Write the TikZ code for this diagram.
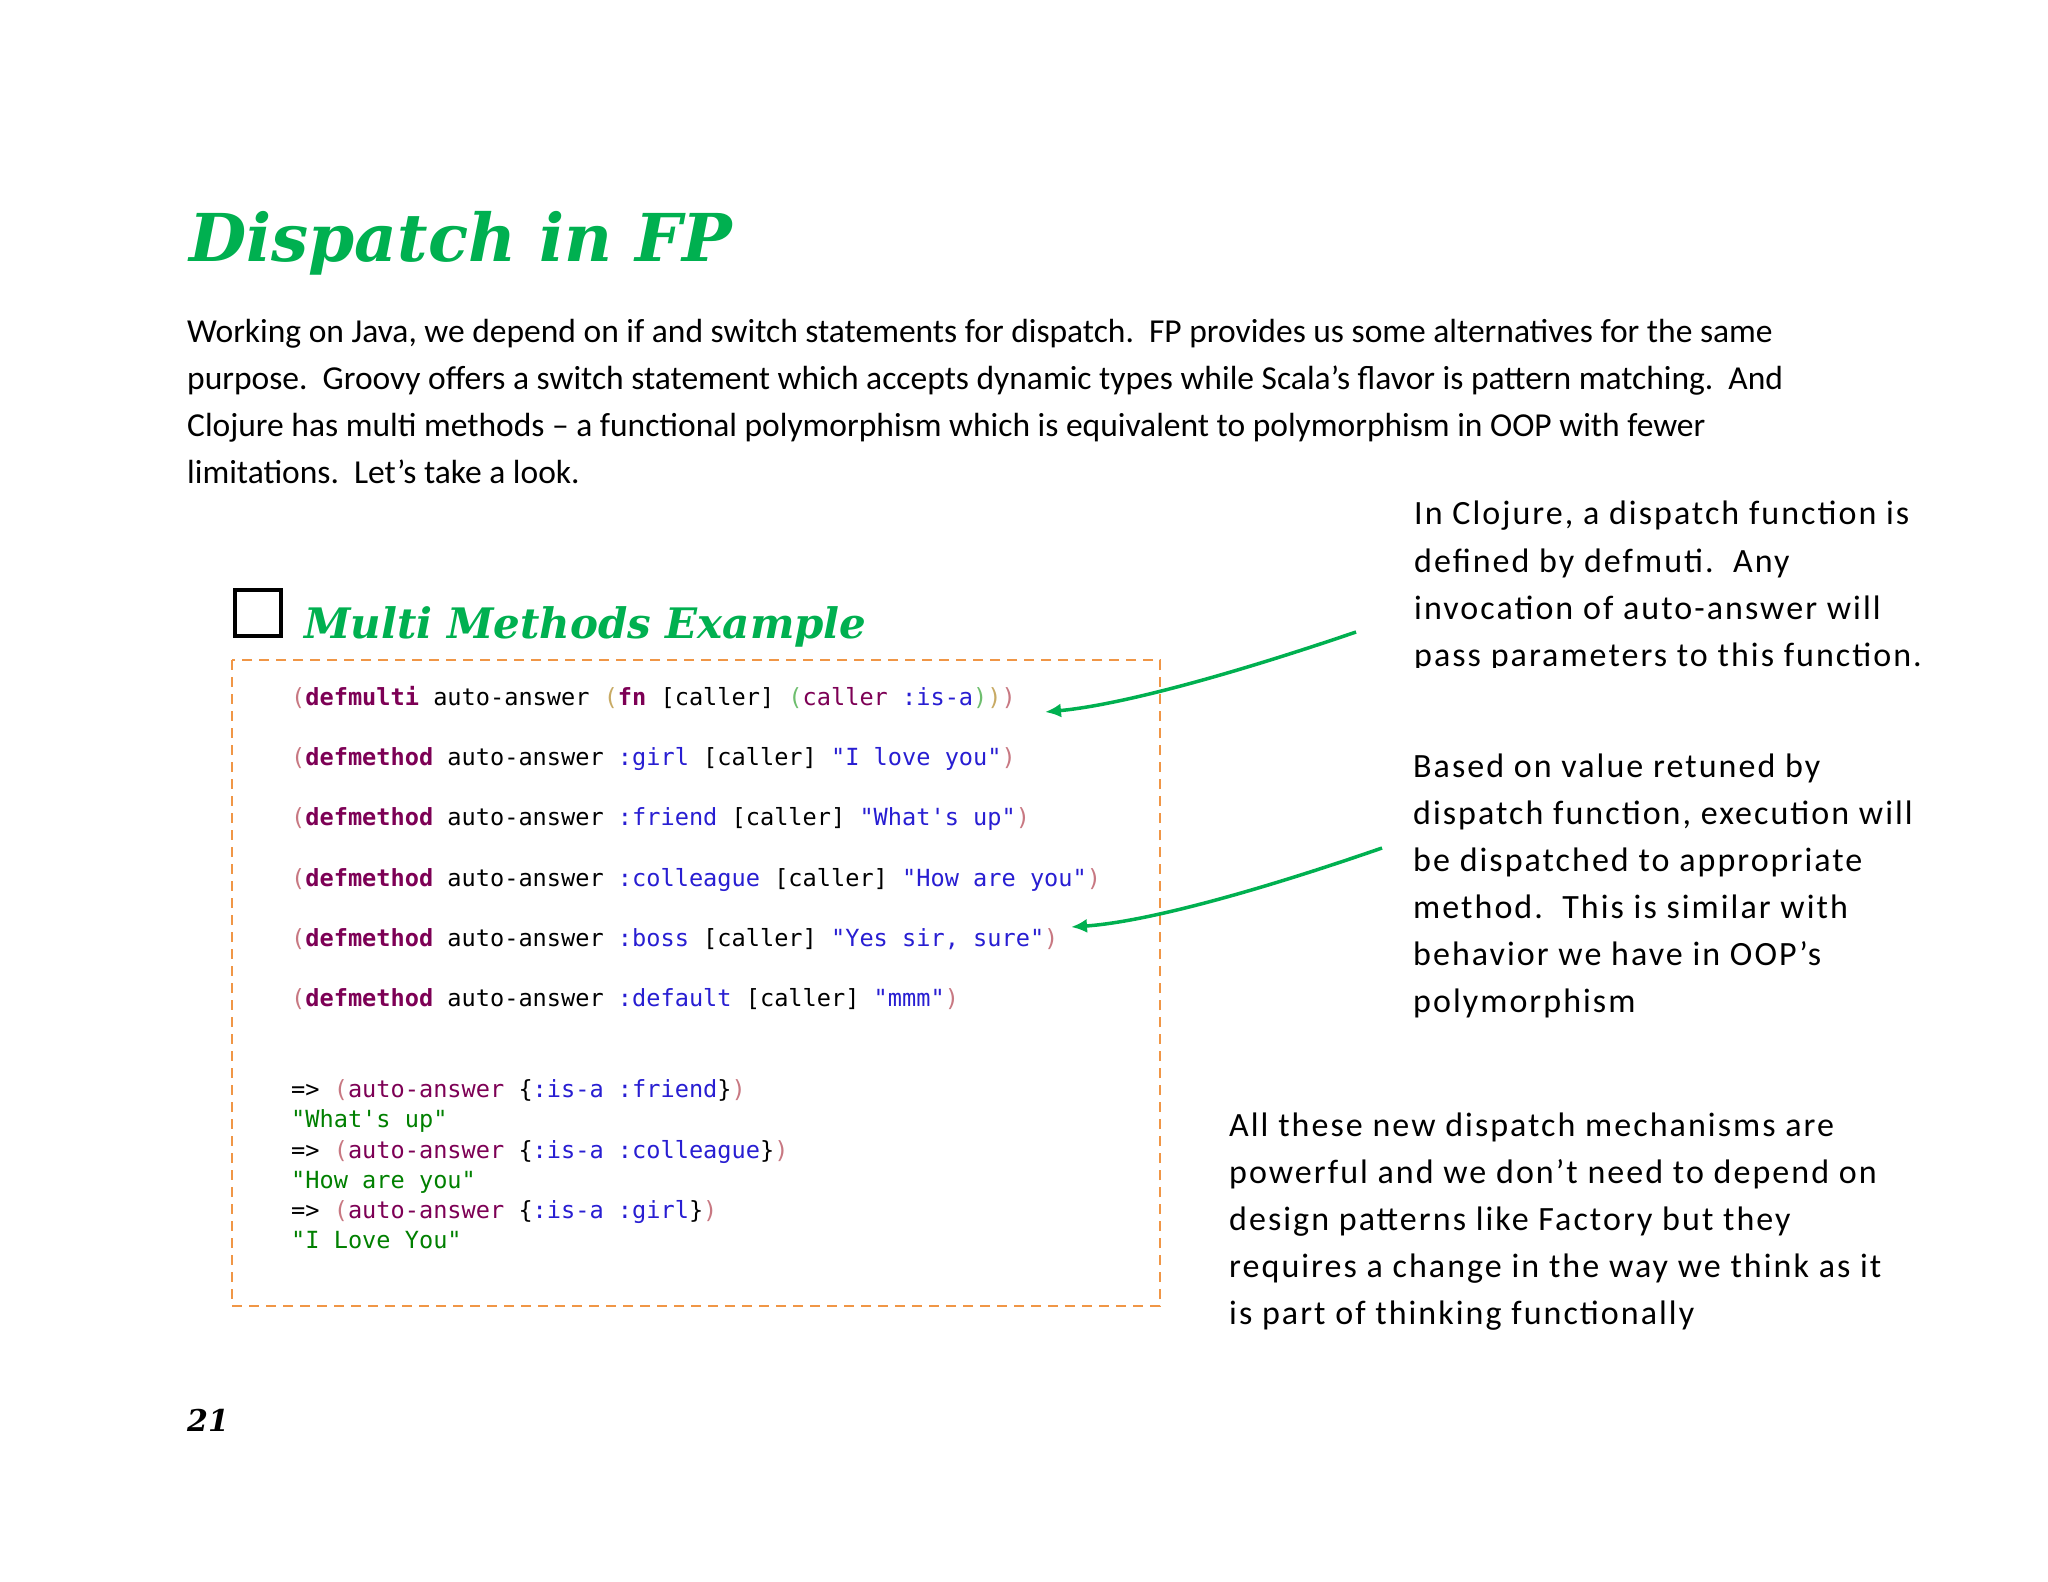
\documentclass[tikz,border=0pt]{standalone}
\usepackage{fontspec}
\usetikzlibrary{arrows.meta}
\setmainfont{Carlito}
\newfontfamily\codefont{DejaVu Sans Mono}
\newfontfamily\spaced[LetterSpace=6]{Carlito}
\newfontfamily\hand{DejaVu Serif}
\definecolor{titlegreen}{RGB}{0,176,80}
\definecolor{kw}{RGB}{125,0,85}
\definecolor{key}{RGB}{40,30,210}
\definecolor{par}{RGB}{200,120,130}
\definecolor{parY}{RGB}{200,170,100}
\definecolor{parG}{RGB}{110,190,110}
\definecolor{res}{RGB}{0,128,0}
\definecolor{boxor}{RGB}{240,150,70}
\newcommand{\KwX}[1]{\textcolor{kw}{\textbf{#1}}}
\newcommand{\KeyX}[1]{\textcolor{key}{#1}}
\newcommand{\ParX}[1]{\textcolor{par}{#1}}
\begin{document}
\begin{tikzpicture}[x=1pt,y=-1pt,
  body/.style={anchor=base west,inner sep=0pt,font=\fontsize{33.5}{38}\selectfont},
  side/.style={anchor=base west,inner sep=0pt,font=\fontsize{34}{38}\spaced},
  code/.style={anchor=base west,inner sep=0pt,font=\fontsize{23.6}{27}\codefont},
  arr/.style={draw=titlegreen,line width=3.5pt,-{Latex[length=16pt,width=14pt]}}]
\useasboundingbox (0,0) rectangle (2048,1582);
\fill[white] (0,0) rectangle (2048,1582);
\node[anchor=base west,inner sep=0pt,text=titlegreen,font=\fontsize{66}{70}\hand\bfseries\itshape] (title) at (189,261) {Dispatch in FP};
\node[body] (p1) at (187,342) {Working on Java, we depend on if and switch statements for dispatch.\ \ FP provides us some alternatives for the same};
\node[body] (p2) at (187,389) {purpose.\ \ Groovy offers a switch statement which accepts dynamic types while Scala’s flavor is pattern matching.\ \ And};
\node[body] (p3) at (187,436) {Clojure has multi methods – a functional polymorphism which is equivalent to polymorphism in OOP with fewer};
\node[body] (p4) at (187,483) {limitations.\ \ Let’s take a look.};
\node[side] (a1) at (1414,524) {In Clojure, a dispatch function is};
\node[side] (a2) at (1414,572) {defined by defmuti.\ \ Any};
\node[side] (a3) at (1414,619) {invocation of auto-answer will};
\begin{scope}
\clip (1400,630) rectangle (2048,667);
\node[side] (a4) at (1414,666) {pass parameters to this function.};
\end{scope}
\node[side] (b1) at (1413,777) {Based on value retuned by};
\node[side] (b2) at (1413,824) {dispatch function, execution will};
\node[side] (b3) at (1413,871) {be dispatched to appropriate};
\node[side] (b4) at (1413,918) {method.\ \ This is similar with};
\node[side] (b5) at (1413,965) {behavior we have in OOP’s};
\node[side] (b6) at (1413,1012) {polymorphism};
\node[side] (c1) at (1229,1136) {All these new dispatch mechanisms are};
\node[side] (c2) at (1229,1183) {powerful and we don’t need to depend on};
\node[side] (c3) at (1229,1230) {design patterns like Factory but they};
\node[side] (c4) at (1229,1277) {requires a change in the way we think as it};
\node[side] (c5) at (1229,1324) {is part of thinking functionally};
\node[draw=black,line width=4pt,minimum size=46pt,inner sep=0pt] (chk) at (258,613) {};
\node[anchor=base west,inner sep=0pt,text=titlegreen,font=\fontsize{42}{46}\hand\bfseries\itshape] (sub) at (304,638) {Multi Methods Example};
\draw[boxor,line width=2.5pt,dash pattern=on 10pt off 7pt] (232,660) rectangle (1160,1306);
\node[code] (l1) at (291,705) {\ParX{(}\KwX{defmulti} auto-answer \textcolor{parY}{(}\KwX{fn} [caller] \textcolor{parG}{(}\textcolor{kw}{caller} \KeyX{:is-a}\textcolor{parG}{)}\textcolor{parY}{)}\ParX{)}};
\node[code] (l2) at (291,765) {\ParX{(}\KwX{defmethod} auto-answer \KeyX{:girl} [caller] \KeyX{"I love you"}\ParX{)}};
\node[code] (l3) at (291,825) {\ParX{(}\KwX{defmethod} auto-answer \KeyX{:friend} [caller] \KeyX{"What's up"}\ParX{)}};
\node[code] (l4) at (291,886) {\ParX{(}\KwX{defmethod} auto-answer \KeyX{:colleague} [caller] \KeyX{"How are you"}\ParX{)}};
\node[code] (l5) at (291,946) {\ParX{(}\KwX{defmethod} auto-answer \KeyX{:boss} [caller] \KeyX{"Yes sir, sure"}\ParX{)}};
\node[code] (l6) at (291,1006) {\ParX{(}\KwX{defmethod} auto-answer \KeyX{:default} [caller] \KeyX{"mmm"}\ParX{)}};
\node[code] (r1) at (291,1097) {=> \ParX{(}\textcolor{kw}{auto-answer} \{\KeyX{:is-a :friend}\}\ParX{)}};
\node[code] (r2) at (291,1127) {\textcolor{res}{"What's up"}};
\node[code] (r3) at (291,1158) {=> \ParX{(}\textcolor{kw}{auto-answer} \{\KeyX{:is-a :colleague}\}\ParX{)}};
\node[code] (r4) at (291,1188) {\textcolor{res}{"How are you"}};
\node[code] (r5) at (291,1218) {=> \ParX{(}\textcolor{kw}{auto-answer} \{\KeyX{:is-a :girl}\}\ParX{)}};
\node[code] (r6) at (291,1248) {\textcolor{res}{"I Love You"}};
\coordinate (s1) at (1356,632);
\coordinate (e1) at (1045,712);
\coordinate (s2) at (1382,848);
\coordinate (e2) at (1071,927);
\draw[arr] (s1) .. controls (1230,675) and (1120,705) .. (e1);
\draw[arr] (s2) .. controls (1255,892) and (1145,922) .. (e2);
\node[anchor=base west,inner sep=0pt,font=\fontsize{30}{34}\hand\bfseries\itshape] (pg) at (187,1431) {21};
\end{tikzpicture}
\end{document}
